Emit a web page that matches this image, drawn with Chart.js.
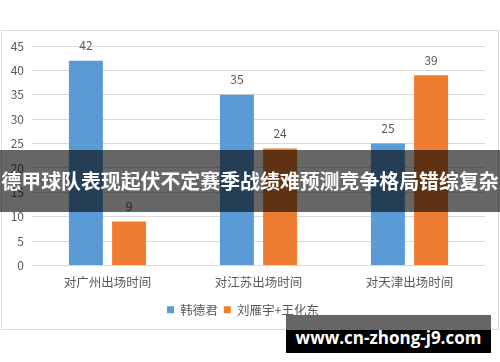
<!DOCTYPE html>
<html>
<head>
<meta charset="utf-8">
<script src="https://cdn.jsdelivr.net/npm/chart.js@4/dist/chart.umd.min.js"></script>
<style>
	html, body { margin: 0; padding: 0; background: #fff; }
	#wrap { position: relative; width: 500px; height: 362px; overflow: hidden; }
	#banner {
		position: absolute; left: 0; top: 150px; width: 500px; height: 62px;
		background: rgba(0, 0, 0, 0.6); color: #fff;
		font: bold 19.9px "Noto Sans CJK SC", sans-serif;
		line-height: 62px; text-align: center; white-space: nowrap; letter-spacing: 0;
	}
	#mark-top { position: absolute; left: 286px; top: 315px; width: 205px; height: 15px; background: #666; }
	#mark {
		position: absolute; left: 286px; top: 330px; width: 205px; height: 23px;
		background: #000; color: #fff; text-align: center;
		font: bold 17px "Open Sans", "DejaVu Sans", sans-serif; line-height: 15px;
	}
</style>
</head>
<body>
<div id="wrap">
	<canvas id="chart" width="500" height="362"></canvas>
	<div id="banner">德甲球队表现起伏不定赛季战绩难预测竞争格局错综复杂</div>
	<div id="mark-top"></div>
	<div id="mark">www.cn-zhong-j9.com</div>
</div>
<script>
const categories = ["对广州出场时间", "对江苏出场时间", "对天津出场时间"];
const seriesNames = ["韩德君", "刘雁宇+王化东"];
const hanDejun = [42, 35, 25];
const liuWang = [9, 24, 39];
const yTicks = [0, 5, 10, 15, 20, 25, 30, 35, 40, 45];

const textColor = "#595959";
const gridColor = "#d9d9d9";
const font = "'Noto Sans CJK SC', sans-serif";

// outer frame of the chart
const framePlugin = {
	id: "frame",
	beforeDraw(chart) {
		const ctx = chart.ctx;
		ctx.save();
		ctx.strokeStyle = "#d9d9d9";
		ctx.lineWidth = 1;
		ctx.strokeRect(1.5, 30.5, 497, 299);
		ctx.restore();
	}
};

// value labels above each bar
const valueLabels = {
	id: "valueLabels",
	afterDatasetsDraw(chart) {
		const ctx = chart.ctx;
		ctx.save();
		ctx.fillStyle = textColor;
		ctx.font = "12px " + font;
		ctx.textAlign = "center";
		ctx.textBaseline = "middle";
		chart.data.datasets.forEach((ds, i) => {
			chart.getDatasetMeta(i).data.forEach((bar, j) => {
				ctx.fillText(ds.data[j], bar.x, bar.y - 15);
			});
		});
		ctx.restore();
	}
};

new Chart(document.getElementById("chart"), {
	type: "bar",
	data: {
		labels: categories,
		datasets: [
			{ label: seriesNames[0], data: hanDejun, backgroundColor: "#5b9bd5" },
			{ label: seriesNames[1], data: liuWang, backgroundColor: "#ed7d31" }
		]
	},
	options: {
		responsive: false,
		animation: false,
		devicePixelRatio: 1,
		categoryPercentage: 0.572,
		barPercentage: 0.787,
		layout: { padding: { top: 46, left: 1, right: 15, bottom: 36 } },
		scales: {
			x: {
				afterFit: (scale) => { scale.height += 7; },
				grid: { display: false },
				border: { display: false },
				ticks: { color: textColor, font: { family: font, size: 12.5 }, padding: 1 }
			},
			y: {
				min: 0,
				max: 45,
				afterFit: (scale) => { scale.width = 31; },
				afterBuildTicks: (scale) => { scale.ticks = yTicks.map(v => ({ value: v })); },
				grid: { color: gridColor, drawTicks: false },
				border: { display: false },
				ticks: { color: textColor, font: { family: font, size: 12 }, padding: 8 }
			}
		},
		plugins: {
			legend: {
				position: "bottom",
				labels: {
					boxWidth: 7,
					boxHeight: 7,
					padding: 6,
					color: textColor,
					font: { family: font, size: 12.5 }
				}
			},
			tooltip: { enabled: false }
		}
	},
	plugins: [framePlugin, valueLabels]
});
</script>
</body>
</html>
